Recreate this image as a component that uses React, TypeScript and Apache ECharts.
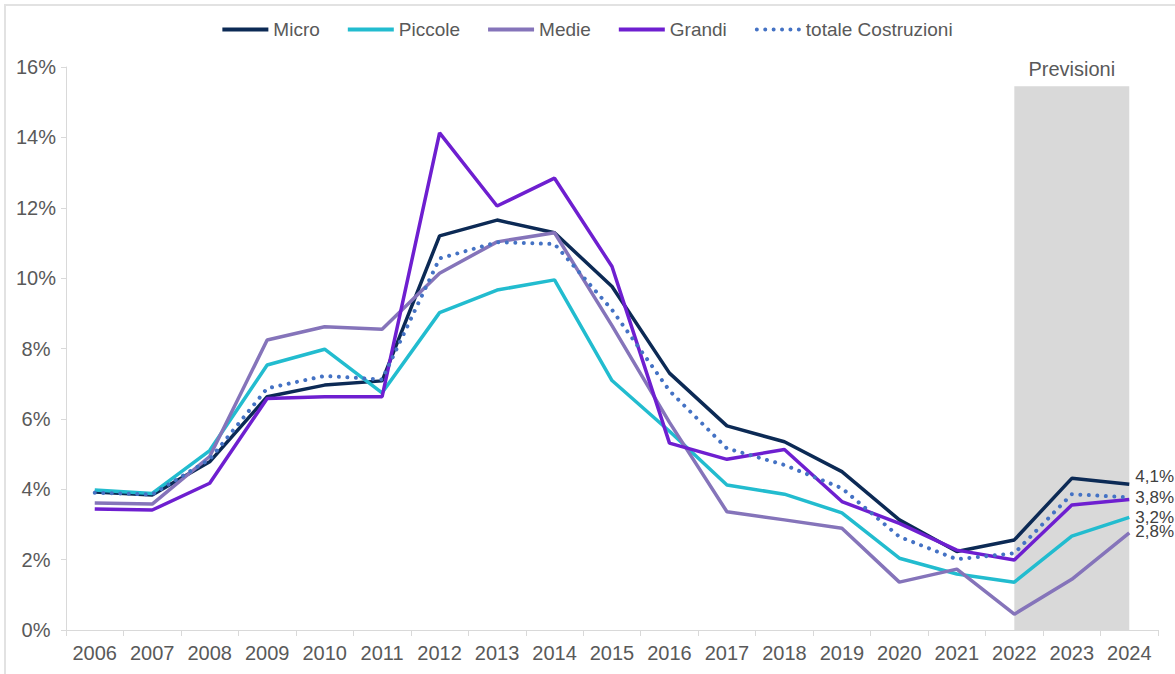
import React, { useEffect, useRef } from "react";
import * as echarts from "echarts";

const years = ["2006","2007","2008","2009","2010","2011","2012","2013","2014","2015","2016","2017","2018","2019","2020","2021","2022","2023","2024"];
const micro = [3.92,3.84,4.78,6.63,6.96,7.08,11.20,11.65,11.29,9.76,7.30,5.80,5.35,4.50,3.13,2.23,2.56,4.31,4.14];
const piccole = [3.98,3.88,5.10,7.53,7.98,6.74,9.02,9.66,9.95,7.09,5.65,4.12,3.86,3.33,2.04,1.59,1.36,2.67,3.20];
const medie = [3.61,3.58,4.93,8.24,8.62,8.55,10.14,11.03,11.29,8.65,5.90,3.36,3.13,2.89,1.36,1.73,0.45,1.44,2.76];
const grandi = [3.44,3.41,4.17,6.58,6.63,6.63,14.13,12.05,12.84,10.33,5.31,4.85,5.13,3.65,3.03,2.27,1.99,3.55,3.71];
const totale = [3.90,3.85,4.85,6.87,7.22,7.12,10.56,11.02,10.97,9.10,6.80,5.16,4.69,4.03,2.65,2.01,2.18,3.86,3.77];
const forecastStart = "2022";
const forecastEnd = "2024";
const forecastTop = 15.45;
const forecastLabel = "Previsioni";
const yTicks = { min: 0, max: 16, interval: 2 };

const FONT = "'Liberation Sans Narrow', 'Arial Narrow', 'Liberation Sans', Arial, sans-serif";
const GRAY = "#595959";

const SOLID_ICON = "path://M0,0H46V4H0Z";
const DOT_ICON =
  "path://" +
  [0, 1, 2, 3, 4, 5]
    .map((i) => {
      const cx = 2 + i * 8.4;
      return `M${(cx - 2).toFixed(1)},2a2,2 0 1,0 4,0a2,2 0 1,0 -4,0Z`;
    })
    .join("");

export default function App() {
  const ref = useRef<HTMLDivElement>(null);
  useEffect(() => {
    if (!ref.current) return;
    const chart = echarts.init(ref.current, undefined, { renderer: "svg" });
    const lineSeries = (
      name: string,
      data: number[],
      color: string,
      endLabel: boolean,
      offset: number[],
      extraLine: any = {}
    ) => ({
      name,
      type: "line",
      data,
      symbol: "none",
      z: 3,
      lineStyle: { color, width: 3.5, ...extraLine },
      itemStyle: { color },
      emphasis: { disabled: true },
      endLabel: {
        show: endLabel,
        distance: 6,
        offset,
        fontFamily: FONT,
        fontSize: 17,
        color: "#404040",
        formatter: (p: any) => Number(p.value).toFixed(1).replace(".", ",") + "%",
      },
    });
    chart.setOption({
      animation: false,
      backgroundColor: "#ffffff",
      textStyle: { fontFamily: FONT },
      graphic: [
        {
          type: "rect",
          shape: { x: 5, y: 5, width: 1400, height: 900 },
          style: { fill: "none", stroke: "#e2e2e2", lineWidth: 2 },
          silent: true,
        },
      ],
      legend: {
        left: "center",
        top: 15,
        itemWidth: 46,
        itemHeight: 14,
        itemGap: 28,
        data: [
          { name: "Micro", icon: SOLID_ICON },
          { name: "Piccole", icon: SOLID_ICON },
          { name: "Medie", icon: SOLID_ICON },
          { name: "Grandi", icon: SOLID_ICON },
          { name: "totale Costruzioni", icon: DOT_ICON },
        ],
        textStyle: { color: GRAY, fontSize: 19, fontFamily: FONT },
      },
      grid: { left: 66, top: 67, width: 1092, height: 563, containLabel: false },
      xAxis: {
        type: "category",
        data: years,
        boundaryGap: true,
        axisLine: { lineStyle: { color: "#d9d9d9", width: 1 } },
        axisTick: { show: true, length: 6, interval: 0, lineStyle: { color: "#d9d9d9" } },
        axisLabel: { interval: 0, color: GRAY, fontSize: 20, fontFamily: FONT, margin: 13 },
        splitLine: { show: false },
      },
      yAxis: {
        type: "value",
        min: yTicks.min,
        max: yTicks.max,
        interval: yTicks.interval,
        axisLine: { show: true, lineStyle: { color: "#d9d9d9", width: 1 } },
        axisTick: { show: true, length: 5, lineStyle: { color: "#d9d9d9" } },
        axisLabel: {
          color: GRAY,
          fontSize: 20,
          fontFamily: FONT,
          align: "center",
          margin: 30,
          formatter: (v: number) => v + "%",
        },
        splitLine: { show: false },
      },
      series: [
        {
          name: "forecast",
          type: "line",
          data: [],
          z: 1,
          symbol: "none",
          markArea: {
            silent: true,
            itemStyle: { color: "#d9d9d9", opacity: 1 },
            label: {
              show: true,
              position: "top",
              distance: 7,
              formatter: forecastLabel,
              color: GRAY,
              fontSize: 20,
              fontFamily: FONT,
            },
            data: [[{ xAxis: forecastStart, yAxis: 0 }, { xAxis: forecastEnd, yAxis: forecastTop }]],
          },
        },
        lineSeries("Micro", micro, "#0c2a55", true, [0, -8]),
        lineSeries("Piccole", piccole, "#22bccf", true, [0, 0]),
        lineSeries("Medie", medie, "#8574ba", true, [0, -1]),
        lineSeries("Grandi", grandi, "#6e1fd0", false, [0, 0]),
        lineSeries("totale Costruzioni", totale, "#4472c4", true, [0, 0], {
          type: [0.01, 8.5],
          cap: "round",
          width: 4,
        }),
      ],
    });
    return () => chart.dispose();
  }, []);
  return (
    <div
      ref={ref}
      style={{ position: "absolute", left: 0, top: 0, width: 1175, height: 674 }}
    />
  );
}
